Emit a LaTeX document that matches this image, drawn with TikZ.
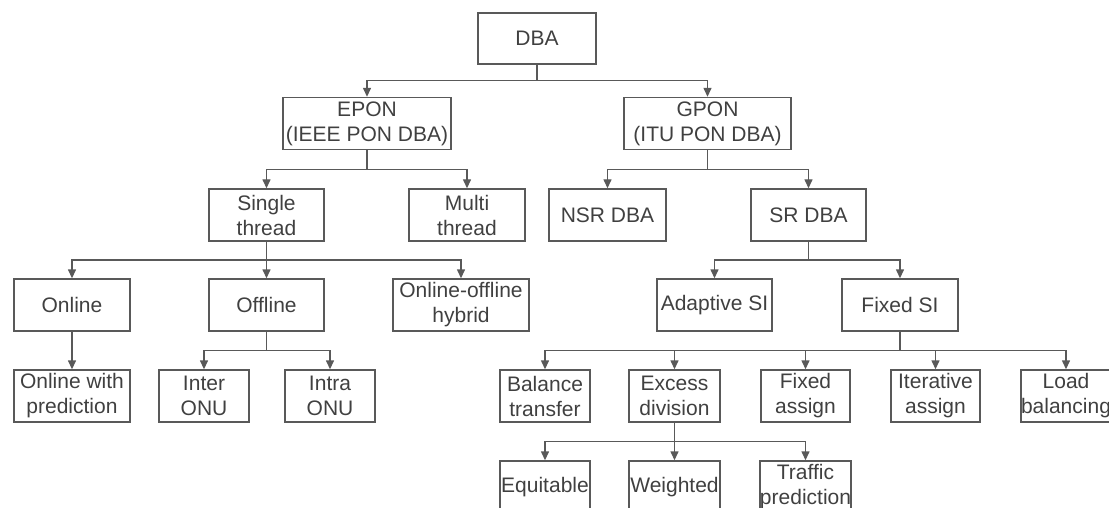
\documentclass[tikz,border=0pt]{standalone}
\usepackage{fontspec}
\setmainfont{Liberation Sans}
\usetikzlibrary{arrows.meta,calc}

\tikzset{
    dbabox/.style={draw=black!65, line width=1.4pt, text=black!75, minimum height=52pt,
        inner sep=0pt, align=center, font=\fontsize{21}{25}\selectfont},
    link/.style={draw=black!65, line width=1.4pt, -{Triangle[length=9pt,width=8pt]}}
}

\begin{document}
\begin{tikzpicture}[x=1pt,y=-1pt]
        \useasboundingbox (0,0) rectangle (1109,508);
        % root and the two standards
        \node[dbabox, minimum width=118pt, minimum height=51pt] (dba) at (537,38.5) {DBA};
        \node[dbabox, minimum width=168pt] (epon) at (367,123.5) {EPON\\(IEEE PON DBA)};
        \node[dbabox, minimum width=167pt] (gpon) at (707.5,123.5) {GPON\\(ITU PON DBA)};
        % second level
        \node[dbabox, minimum width=115pt] (single) at (266.5,215) {Single\\thread};
        \node[dbabox, minimum width=116pt] (multi) at (467,215) {Multi\\thread};
        \node[dbabox, minimum width=117pt] (nsr) at (607.5,215) {NSR DBA};
        \node[dbabox, minimum width=115pt] (sr) at (808.5,215) {SR DBA};
        % third level
        \node[dbabox, minimum width=116pt] (online) at (72,305) {Online};
        \node[dbabox, minimum width=115pt] (offline) at (266.5,305) {Offline};
        \node[dbabox, minimum width=136pt] (hybrid) at (461,305) {Online-offline\\hybrid};
        \node[dbabox, minimum width=115pt] (adaptive) at (714.5,305) {Adaptive SI};
        \node[dbabox, minimum width=116pt] (fixedsi) at (900,305) {Fixed SI};
        % fourth level
        \node[dbabox, minimum width=116pt] (onpred) at (72,396) {Online with\\prediction};
        \node[dbabox, minimum width=90pt] (inter) at (204,396) {Inter\\ONU};
        \node[dbabox, minimum width=90pt] (intra) at (330,396) {Intra\\ONU};
        \node[dbabox, minimum width=90pt] (balance) at (545,396) {Balance\\transfer};
        \node[dbabox, minimum width=91pt] (excess) at (674.5,396) {Excess\\division};
        \node[dbabox, minimum width=89pt] (fixassign) at (805.5,396) {Fixed\\assign};
        \node[dbabox, minimum width=89pt] (iterative) at (935.5,396) {Iterative\\assign};
        \node[dbabox, minimum width=90pt] (load) at (1066,396) {Load\\balancing};
        % bottom row, cut by the page edge
        \node[dbabox, minimum width=90pt] (equitable) at (545,487) {Equitable};
        \node[dbabox, minimum width=91pt] (weighted) at (674.5,487) {Weighted};
        \node[dbabox, minimum width=89pt] (traffic) at (805.5,487) {Traffic\\prediction};

        \foreach \p/\c in {dba/epon, dba/gpon, epon/single, epon/multi, gpon/nsr, gpon/sr,
                single/online, single/offline, single/hybrid, sr/adaptive, sr/fixedsi,
                online/onpred, offline/inter, offline/intra,
                fixedsi/balance, fixedsi/excess, fixedsi/fixassign, fixedsi/iterative, fixedsi/load,
                excess/equitable, excess/weighted, excess/traffic}
            \draw[link] (\p.south) |- ($(\p.south)!.5!(\c.north)$) -| (\c.north);
\end{tikzpicture}
\end{document}
